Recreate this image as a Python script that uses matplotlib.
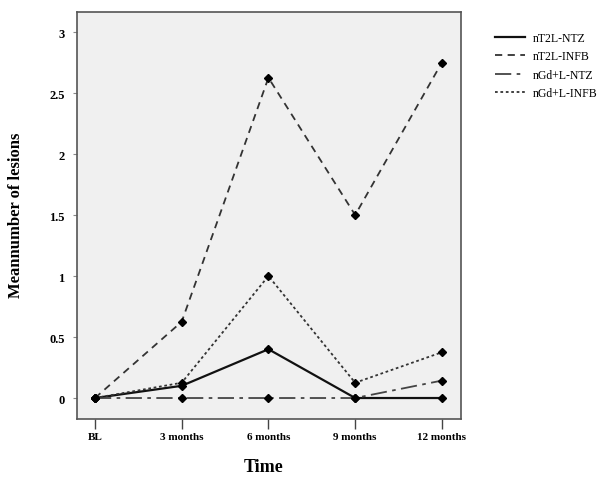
import matplotlib
matplotlib.use('Agg')
import matplotlib.pyplot as plt

# Data
time_labels = ['BL', '3 months', '6 months', '9 months', '12 months']
nt2l_ntz = [0, 0.1, 0.4, 0, 0]
nt2l_infb = [0, 0.625, 2.625, 1.5, 2.75]
ngd_ntz = [0, 0, 0, 0, 0.143]
ngd_infb = [0, 0.125, 1.0, 0.125, 0.375]

plt.rcParams['font.family'] = ['Liberation Serif', 'DejaVu Serif']

fig = plt.figure(figsize=(6, 4.81), dpi=100)
ax = fig.add_axes([77 / 600, 1 - 420 / 481, 384 / 600, 407 / 481])
ax.set_facecolor('#f0f0f0')

x = list(range(len(time_labels)))
series = [
    (nt2l_ntz, 'nT2L-NTZ', '-', 1.6, '#111111'),
    (nt2l_infb, 'nT2L-INFB', (0, (4, 3)), 1.3, '#333333'),
    (ngd_ntz, 'nGd+L-NTZ', (0, (9, 3, 2, 3)), 1.3, '#444444'),
    (ngd_infb, 'nGd+L-INFB', (0, (1.5, 1.5)), 1.3, '#333333'),
]
leg_lines = []
for vals, name, style, width, col in series:
    ax.plot(x, vals, color=col, lw=width, ls=style,
            marker='D', ms=4.5, mfc='black', mec='black')
    leg_lines.append(plt.Line2D([], [], color=col, lw=width, ls=style))

ax.set_xlim(-0.207, 4.22)
ax.set_ylim(-0.172, 3.164)
ax.set_xticks(x)
ax.set_xticklabels(time_labels, fontsize=8, fontweight='bold')
ax.set_yticks([0, 0.5, 1, 1.5, 2, 2.5, 3])
ax.set_yticklabels(['0', '0.5', '1', '1.5', '2', '2.5', '3'], fontsize=9, fontweight='bold')
ax.tick_params(axis='x', direction='out', length=7, width=1, color='#444444', pad=2)
ax.tick_params(axis='y', direction='out', length=3, width=0.8, color='#888888', pad=6)

for side in ax.spines.values():
    side.set_color('#555555')
    side.set_linewidth(1.2)

fig.text(264 / 600, 1 - 468 / 481, 'Time', fontsize=13, fontweight='bold',
         ha='center', va='center')
fig.text(16 / 600, 1 - 215 / 481, 'Meannumber of lesions', fontsize=12, fontweight='bold',
         ha='center', va='center', rotation=90)

fig.legend(leg_lines, [s[1] for s in series], loc='upper left',
           bbox_to_anchor=(490 / 600, 1 - 28 / 481),
           frameon=False, fontsize=8.5, handlelength=2.6, labelspacing=0.55,
           handletextpad=0.6, borderaxespad=0)

fig.savefig('out.png', dpi=100)
